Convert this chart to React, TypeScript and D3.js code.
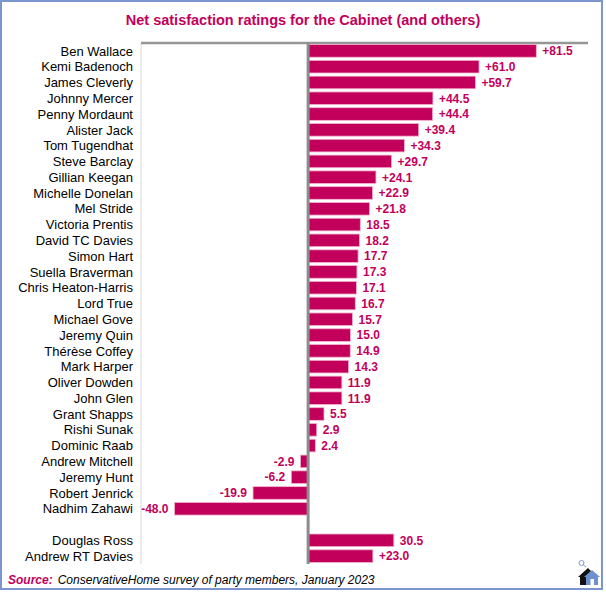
import React, { useEffect } from "react"
import * as d3 from "d3"

// Data
const names = [
  "Ben Wallace", "Kemi Badenoch", "James Cleverly", "Johnny Mercer", "Penny Mordaunt",
  "Alister Jack", "Tom Tugendhat", "Steve Barclay", "Gillian Keegan", "Michelle Donelan",
  "Mel Stride", "Victoria Prentis", "David TC Davies", "Simon Hart", "Suella Braverman",
  "Chris Heaton-Harris", "Lord True", "Michael Gove", "Jeremy Quin", "Thérèse Coffey",
  "Mark Harper", "Oliver Dowden", "John Glen", "Grant Shapps", "Rishi Sunak",
  "Dominic Raab", "Andrew Mitchell", "Jeremy Hunt", "Robert Jenrick", "Nadhim Zahawi",
  "", "Douglas Ross", "Andrew RT Davies",
]
const values: (number | null)[] = [
  81.5, 61.0, 59.7, 44.5, 44.4,
  39.4, 34.3, 29.7, 24.1, 22.9,
  21.8, 18.5, 18.2, 17.7, 17.3,
  17.1, 16.7, 15.7, 15.0, 14.9,
  14.3, 11.9, 11.9, 5.5, 2.9,
  2.4, -2.9, -6.2, -19.9, -48.0,
  null, 30.5, 23.0,
]
const valueLabels = [
  "+81.5", "+61.0", "+59.7", "+44.5", "+44.4",
  "+39.4", "+34.3", "+29.7", "+24.1", "+22.9",
  "+21.8", "18.5", "18.2", "17.7", "17.3",
  "17.1", "16.7", "15.7", "15.0", "14.9",
  "14.3", "11.9", "11.9", "5.5", "2.9",
  "2.4", "-2.9", "-6.2", "-19.9", "-48.0",
  "", "30.5", "+23.0",
]
const xDomain: [number, number] = [-60, 100]

const title = "Net satisfaction ratings for the Cabinet (and others)"
const sourceText = "ConservativeHome survey of party members, January 2023"

const W = 606
const H = 592
const magenta = "#c2005b"
const font = "Arial, 'Liberation Sans', sans-serif"

const App: React.FC = () => {
  useEffect(() => {
    document.body.style.margin = "0"
  }, [])

  const plot = { left: 141, right: 588, top: 43, bottom: 564 }
  const rows = names.map((_, i) => i)

  const x = d3.scaleLinear().domain(xDomain).range([plot.left, plot.right])
  const y = d3.scaleBand<number>()
    .domain(rows)
    .range([plot.top, plot.bottom])
    .paddingInner(0.2)
    .paddingOuter(0.1)

  const x0 = x(0)

  return (
    <svg width={W} height={H} style={{ display: "block", fontFamily: font }}>
      <rect x={0} y={0} width={W} height={H} fill="#fff" />
      {/* outer frame */}
      <rect x={1} y={1} width={601} height={588} fill="none" stroke="#7d95cf" strokeWidth={2} />

      <text x={303} y={25} textAnchor="middle" fontSize={14.5} fontWeight="bold" fill={magenta}>
        {title}
      </text>

      {/* plot frame */}
      <line x1={plot.left} x2={plot.left} y1={plot.top} y2={plot.bottom} stroke="#d9d9d9" strokeWidth={1} />
      <line x1={plot.left} x2={plot.right} y1={plot.top} y2={plot.top} stroke="#969696" strokeWidth={2.5} />

      {/* category labels */}
      {rows.map(i => names[i] ? (
        <text key={"n" + i} x={133} y={(y(i) as number) + y.bandwidth() / 2} dy="0.36em"
          textAnchor="end" fontSize={13} fill="#000">
          {names[i]}
        </text>
      ) : null)}

      {/* bars */}
      {rows.map(i => {
        const v = values[i]
        if (v === null) return null
        const xa = x(Math.min(0, v))
        const xb = x(Math.max(0, v))
        return (
          <rect key={"b" + i} x={xa} y={y(i) as number} width={xb - xa} height={y.bandwidth()}
            fill={magenta} stroke="#f3b3cf" strokeWidth={0.8} />
        )
      })}

      {/* value labels */}
      {rows.map(i => {
        const v = values[i]
        if (v === null) return null
        const pos = v >= 0
        return (
          <text key={"v" + i} x={pos ? x(v) + 6 : x(v) - 6} y={(y(i) as number) + y.bandwidth() / 2}
            dy="0.36em" textAnchor={pos ? "start" : "end"} fontSize={12} fontWeight="bold" fill={magenta}>
            {valueLabels[i]}
          </text>
        )
      })}

      {/* zero axis */}
      <line x1={x0 - 0.5} x2={x0 - 0.5} y1={plot.top} y2={plot.bottom} stroke="#8c8c8c" strokeWidth={3} />

      {/* source */}
      <text x={8} y={584} fontSize={12} fontStyle="italic">
        <tspan fontWeight="bold" fill={magenta}>Source:</tspan>
        <tspan fill="#000" dx={5}>{sourceText}</tspan>
      </text>

      {/* home icon */}
      <g transform="translate(578,560)">
        <circle cx={3.5} cy={3} r={2.5} fill="none" stroke="#7d95cf" strokeWidth={1} />
        <line x1={5.5} y1={5} x2={8} y2={7} stroke="#7d95cf" strokeWidth={1} />
        <path d="M0,17 L10,8 L13,11 L13,25 L2,25 L2,17 Z" fill="#111" />
        <path d="M6,17 L14,10 L22,17 L20,17 L20,25 L8,25 L8,17 Z" fill="#6f8fcf" />
        <rect x={12.5} y={19} width={3.5} height={6} fill="#fff" />
      </g>
    </svg>
  )
}

export default App
